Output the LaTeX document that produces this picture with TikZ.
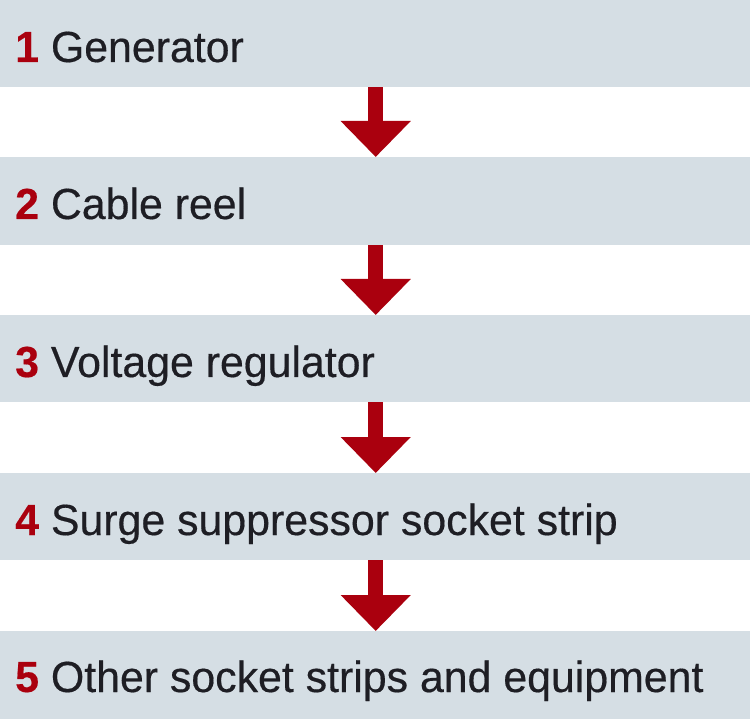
\documentclass[tikz,border=0pt]{standalone}
\usepackage{fontspec}
\setmainfont{Liberation Sans}[FakeBold=0.4,FakeStretch=0.985]
\usetikzlibrary{arrows.meta}
\definecolor{barcol}{RGB}{213,222,228}
\definecolor{numred}{RGB}{170,0,14}
\definecolor{txtcol}{RGB}{30,30,36}
\tikzset{
  bar/.style={fill=barcol, draw=none, inner sep=0pt, minimum width=750pt, anchor=north west},
  label/.style={anchor=base west, inner sep=0pt, text=txtcol, font=\fontsize{43.5}{48}\selectfont},
  flow/.style={draw=numred, line width=15pt, line cap=butt,
    -{Triangle[width=68pt,length=36pt,fill=numred]}}
}
\newcommand{\stepnum}[1]{{\color{numred}\bfseries #1}}
\begin{document}
\begin{tikzpicture}[x=1pt,y=-1pt]
\useasboundingbox (0,0) rectangle (750,719);
\fill[white] (0,0) rectangle (750,719);
\node[bar, minimum height=87pt] (b1) at (0,0) {};
\node[bar, minimum height=88pt] (b2) at (0,157) {};
\node[bar, minimum height=87pt] (b3) at (0,315) {};
\node[bar, minimum height=87pt] (b4) at (0,473) {};
\node[bar, minimum height=88pt] (b5) at (0,631) {};
\node[label] (t1) at (15,62) {\stepnum{1} Generator};
\node[label] (t2) at (15,219) {\stepnum{2} Cable reel};
\node[label] (t3) at (15,377) {\stepnum{3} Voltage regulator};
\node[label] (t4) at (15,535) {\stepnum{4} Surge suppressor socket strip};
\node[label] (t5) at (15,692) {\stepnum{5} Other socket strips and equipment};
\draw[flow] ([xshift=0.5pt]b1.south) -- ([xshift=0.5pt]b2.north);
\draw[flow] ([xshift=0.5pt]b2.south) -- ([xshift=0.5pt]b3.north);
\draw[flow] ([xshift=0.5pt]b3.south) -- ([xshift=0.5pt]b4.north);
\draw[flow] ([xshift=0.5pt]b4.south) -- ([xshift=0.5pt]b5.north);
\end{tikzpicture}
\end{document}
